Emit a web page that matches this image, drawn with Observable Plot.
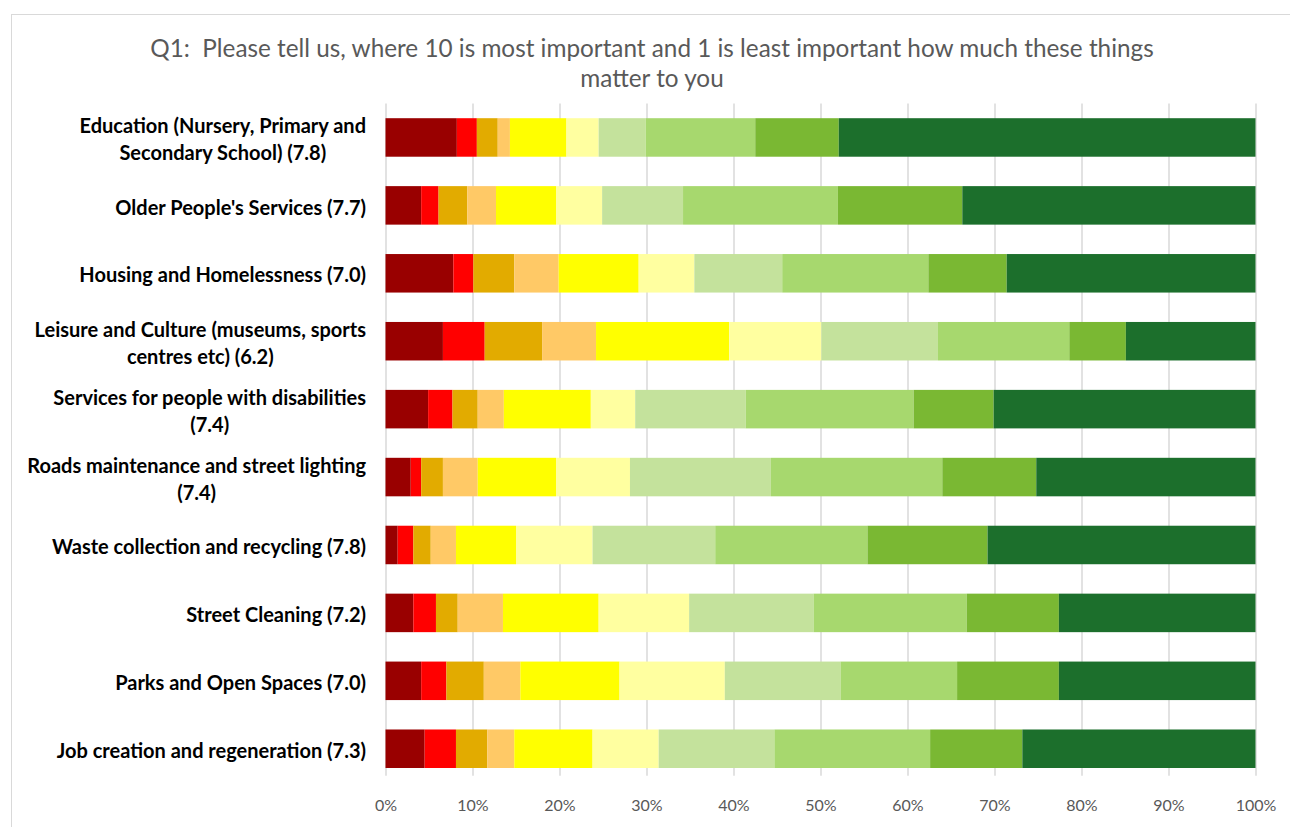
<!DOCTYPE html>
<html>
<head>
<meta charset="utf-8">
<script src="https://cdn.jsdelivr.net/npm/d3@7"></script>
<script src="https://cdn.jsdelivr.net/npm/@observablehq/plot@0.6"></script>
<style>
  html, body { margin: 0; padding: 0; background: #fff; }
  #page { position: relative; width: 1290px; height: 827px; overflow: hidden; }
  #frame { position: absolute; left: 11px; top: 14px; width: 1400px; height: 900px;
           border-left: 1.5px solid #d9d9d9; border-top: 1.5px solid #d9d9d9; }
  #title { position: absolute; left: 11px; top: 33px; width: 1282px; text-align: center;
           font-family: Lato, "Open Sans", sans-serif; font-size: 24.3px; line-height: 30px; color: #595959; }
  #chart { position: absolute; left: 0; top: 100px; }
</style>
</head>
<body>
<div id="page">
  <div id="frame"></div>
  <div id="title">Q1:&nbsp; Please tell us, where 10 is most important and 1 is least important how much these things<br>matter to you</div>
  <div id="chart"></div>
</div>
<script>
const categories = [
  "Education (Nursery, Primary and\nSecondary School) (7.8)",
  "Older People's Services (7.7)",
  "Housing and Homelessness (7.0)",
  "Leisure and Culture (museums, sports\ncentres etc) (6.2)",
  "Services for people with disabilities\n(7.4)",
  "Roads maintenance and street lighting\n(7.4)",
  "Waste collection and recycling (7.8)",
  "Street Cleaning (7.2)",
  "Parks and Open Spaces (7.0)",
  "Job creation and regeneration (7.3)"
];
const levels = ["1", "2", "3", "4", "5", "6", "7", "8", "9", "10"];
const levelColors = ["#990000", "#ff0000", "#e2ab00", "#ffc966", "#ffff00",
                     "#ffffa0", "#c4e29c", "#a7d86e", "#7ab833", "#1c6f2c"];
// percentage share of each score (1..10) per service, in category order
const shares = [
  [8.2, 2.3, 2.4, 1.4, 6.5, 3.7, 5.4, 12.6, 9.6, 47.9],
  [4.1, 2.0, 3.3, 3.3, 6.9, 5.3, 9.3, 17.8, 14.3, 33.7],
  [7.8, 2.3, 4.7, 5.1, 9.2, 6.4, 10.1, 16.8, 9.0, 28.6],
  [6.6, 4.8, 6.6, 6.2, 15.3, 10.6, 13.4, 15.1, 6.5, 14.9],
  [4.9, 2.8, 2.9, 3.0, 10.0, 5.1, 12.7, 19.3, 9.2, 30.1],
  [2.9, 1.2, 2.5, 4.0, 9.0, 8.5, 16.2, 19.7, 10.8, 25.2],
  [1.4, 1.8, 2.0, 2.9, 6.9, 8.8, 14.1, 17.5, 13.8, 30.8],
  [3.2, 2.6, 2.5, 5.2, 11.0, 10.4, 14.3, 17.6, 10.6, 22.6],
  [4.1, 2.9, 4.3, 4.2, 11.4, 12.1, 13.3, 13.4, 11.7, 22.6],
  [4.5, 3.6, 3.6, 3.1, 9.0, 7.6, 13.3, 17.9, 10.6, 26.8]
];
const xTicks = [0, 10, 20, 30, 40, 50, 60, 70, 80, 90, 100];

const rows = [];
categories.forEach((c, i) => {
  levels.forEach((l, j) => rows.push({category: c, level: l, value: shares[i][j]}));
});

const chart = Plot.plot({
  width: 1290,
  height: 727,
  marginLeft: 385.5,
  marginRight: 34.5,
  marginTop: 3.5,
  marginBottom: 44.3,
  style: {fontFamily: "Lato, 'Open Sans', sans-serif", background: "none", overflow: "visible"},
  x: {domain: [0, 100]},
  y: {domain: categories, paddingInner: 0.433, paddingOuter: 0.2165, align: 0.5, round: false},
  color: {domain: levels, range: levelColors},
  marks: [
    Plot.gridX(xTicks, {stroke: "#d9d9d9", strokeOpacity: 1, strokeWidth: 1.5, insetBottom: 7}),
    Plot.barX(rows, Plot.stackX({y: "category", x: "value", fill: "level", order: null})),
    Plot.axisX(xTicks, {tickSize: 0, tickPadding: 16, tickFormat: d => d + "%",
                        fontSize: 16, fill: "#595959", label: null}),
    Plot.axisY({tickSize: 0, tickPadding: 20, fontSize: 20, fontWeight: "bold",
                fill: "#000", lineHeight: 1.35, label: null, textOverflow: null})
  ]
});
document.getElementById("chart").appendChild(chart);

// center multi-line category labels within their right-aligned block (as in the original)
chart.querySelectorAll('g[aria-label="y-axis tick label"] text').forEach(t => {
  const spans = t.querySelectorAll("tspan");
  if (spans.length > 1) {
    const w = Array.from(spans, s => s.getComputedTextLength());
    const W = Math.max(...w);
    spans.forEach((s, k) => s.setAttribute("x", -(W - w[k]) / 2));
  }
});
</script>
</body>
</html>
